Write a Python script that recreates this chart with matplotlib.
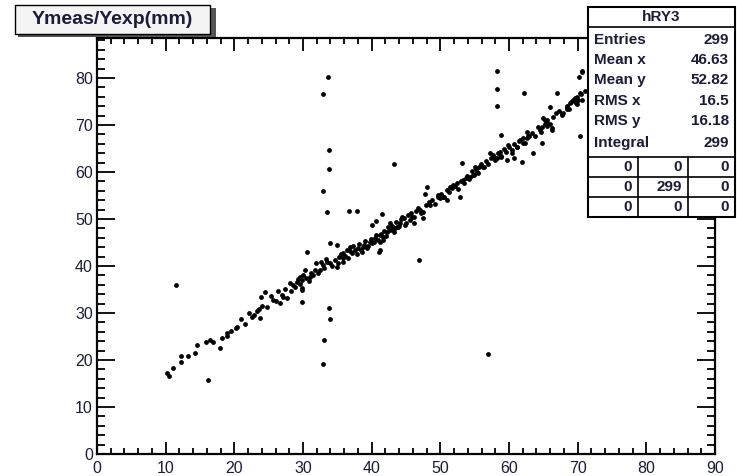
import matplotlib
matplotlib.use("Agg")
import matplotlib.pyplot as plt
from matplotlib.patches import Rectangle
from matplotlib.lines import Line2D
from matplotlib.ticker import MultipleLocator

# ---- data: (x, y) entries of hRY3 ----
x_out = [11.5, 16.2, 33.6, 32.9, 33.8, 33.8, 32.9, 33.5, 36.7, 37.8, 43.2, 30.6, 41.0,
         33.8, 33.9, 33.0, 32.9, 29.8, 46.9, 56.9, 58.2, 58.2, 58.2, 62.2, 67.0, 70.6,
         70.2, 70.3, 58.8, 53.1, 47.7, 48.0]
y_out = [36.0, 15.7, 80.2, 76.6, 64.7, 60.6, 56.0, 51.5, 51.7, 51.7, 61.7, 43.0, 43.0,
         31.0, 28.7, 24.3, 19.1, 32.3, 41.3, 21.3, 81.5, 77.7, 74.0, 76.8, 76.8, 81.5,
         80.2, 67.7, 67.9, 61.9, 55.3, 56.8]

x_low = [10.2, 10.5, 11.0, 12.2, 12.2, 13.2, 14.3, 14.5, 15.9, 16.4, 16.9, 17.9, 18.9,
         19.0, 20.2, 20.4, 21.0, 22.6, 22.8, 23.7, 23.3, 23.6, 24.0, 23.9, 24.5, 25.6,
         26.1, 26.4, 26.9, 27.1, 27.7, 28.1, 28.5, 29.1, 29.3, 29.5, 29.8, 30.0, 30.3,
         29.8, 29.8, 31.0, 31.4, 31.9, 32.5, 32.9, 33.5, 33.9, 34.9, 35.1, 35.8, 35.8,
         35.8, 36.4, 36.8, 37.1, 37.6, 38.0, 38.6, 38.7, 39.3, 39.7, 40.0, 40.5, 40.9,
         41.2, 41.6, 42.2, 42.6, 43.4, 43.8, 40.0, 40.6, 34.9, 33.9,
         18.2, 19.5, 21.6, 22.1, 24.8, 25.3, 26.7, 27.4, 28.3]
y_low = [17.2, 16.6, 18.3, 19.5, 20.9, 20.9, 21.5, 23.2, 23.8, 24.3, 23.8, 22.6, 25.7,
         25.1, 26.8, 27.0, 28.7, 29.2, 29.6, 28.9, 30.4, 30.8, 31.5, 33.4, 34.4, 32.8,
         32.6, 34.7, 33.8, 33.4, 33.2, 36.4, 36.0, 36.6, 37.2, 37.7, 37.0, 38.1, 39.1,
         35.3, 34.9, 37.7, 38.1, 40.6, 39.1, 40.2, 40.9, 40.6, 39.8, 40.6, 40.9, 41.7,
         42.8, 43.4, 44.0, 42.8, 43.4, 43.8, 43.0, 44.0, 43.8, 45.1, 44.9, 46.0, 45.5,
         45.1, 46.2, 47.2, 47.7, 48.1, 48.3, 48.7, 49.6, 44.5, 44.9,
         24.6, 26.1, 27.6, 30.1, 31.2, 33.6, 32.1, 35.2, 34.6]

x_high = [41.5, 41.2, 41.7, 41.2, 42.6, 43.1, 43.7, 44.1, 44.4, 44.8, 45.6, 46.1, 45.9,
          47.0, 47.5, 47.5, 48.5, 49.6, 49.9, 50.4, 50.9, 51.4, 51.8, 52.4, 52.8, 53.3,
          53.8, 54.3, 54.7, 55.3, 55.0, 55.7, 56.2, 57.2, 57.6, 57.9, 58.3, 58.9, 58.7,
          59.7, 59.8, 60.5, 60.8, 61.1, 61.6, 61.9, 62.0, 62.6, 62.6, 62.7, 63.5, 64.5,
          64.8, 64.9, 65.2, 65.5, 65.6, 66.2, 64.8, 66.3, 65.9, 67.7, 68.5, 69.1, 69.9,
          70.3, 69.8, 70.7, 70.6, 69.6, 70.0, 68.9, 69.9, 68.5, 67.7]
y_high = [51.1, 46.6, 45.5, 43.4, 49.1, 47.7, 48.3, 49.1, 50.4, 48.7, 49.8, 49.1, 50.4,
          51.9, 51.5, 50.2, 53.0, 54.7, 54.5, 54.7, 54.0, 56.8, 57.2, 57.7, 54.7, 58.3,
          58.7, 59.0, 59.4, 60.0, 61.1, 61.1, 61.1, 64.0, 63.2, 62.6, 63.0, 63.2, 64.3,
          62.6, 65.7, 64.0, 62.9, 65.3, 66.8, 62.1, 66.2, 67.2, 68.5, 67.7, 64.0, 69.0,
          69.6, 71.5, 71.1, 70.4, 69.8, 69.4, 66.2, 69.0, 73.8, 72.1, 73.8, 74.9, 76.0,
          76.8, 74.9, 75.3, 81.3, 75.7, 75.3, 74.7, 74.5, 73.5, 72.3]

x_band = [28.8, 29.6, 30.4, 30.9, 31.2, 31.8, 32.2, 32.6, 33.1, 33.4, 34.2, 34.6, 35.3,
          35.6, 36.1, 36.5, 36.9, 37.3, 37.8, 38.2, 38.4, 38.9, 39.1, 39.5, 39.9, 40.3,
          40.7, 41.3, 41.8, 42.1, 42.4, 42.9, 43.2, 43.6, 44.0, 44.3, 44.7, 45.0, 45.3,
          45.8, 46.1, 46.5, 46.8, 47.2, 47.9, 48.3, 48.8, 49.2, 49.7, 50.1, 50.5, 50.9,
          51.3, 51.7, 52.1, 52.6, 53.0, 53.5, 53.9, 54.2, 54.6, 54.9, 55.2, 55.5, 55.9,
          56.3, 56.6, 56.9, 57.4, 57.7, 58.1, 58.4, 58.9, 59.2, 59.5, 60.0, 60.4, 60.8,
          61.1, 61.4, 62.0, 62.3, 62.9, 63.3, 63.8, 64.2, 64.6, 65.2, 65.5, 66.0, 66.4,
          66.8, 67.3, 67.9, 68.4, 68.8, 69.3, 69.8, 70.5, 71.0]
y_band = [35.6, 36.2, 37.4, 36.8, 38.6, 39.2, 38.4, 40.8, 39.6, 41.5, 40.1, 41.2, 41.9,
          42.5, 42.2, 41.6, 43.1, 44.2, 42.6, 44.6, 43.5, 44.4, 45.3, 44.2, 45.8, 45.2,
          46.6, 46.9, 47.5, 46.4, 48.2, 48.6, 47.3, 49.4, 48.5, 49.9, 50.3, 49.1, 50.8,
          51.2, 50.4, 51.6, 52.4, 51.2, 52.9, 53.6, 54.0, 53.2, 55.0, 55.4, 54.6, 56.1,
          55.8, 56.5, 57.0, 56.3, 58.1, 57.6, 59.2, 58.5, 60.1, 59.4, 60.7, 59.8, 61.6,
          61.0, 62.4, 61.8, 62.9, 63.6, 63.0, 64.1, 63.4, 64.8, 64.2, 65.3, 64.6, 66.0,
          65.4, 66.5, 67.2, 66.1, 67.6, 68.3, 67.7, 69.6, 68.4, 70.3, 71.0, 70.1, 71.6,
          72.5, 73.0, 72.6, 74.1, 73.5, 75.4, 74.6, 76.6, 77.2]

hist_name = "hRY3"
title_text = "Ymeas/Yexp(mm)"
stat_labels = ["Entries", "Mean x", "Mean y", "RMS x", "RMS y", "Integral"]
stat_values = ["299", "46.63", "52.82", "16.5", "16.18", "299"]
cell_counts = [["0", "0", "0"], ["0", "299", "0"], ["0", "0", "0"]]

xs = x_out + x_low + x_high + x_band
ys = y_out + y_low + y_high + y_band

W, H = 737, 476
fig = plt.figure(figsize=(W / 100, H / 100), dpi=100)
fig.patch.set_facecolor("white")

def fx(px):
    return px / W

def fy(py):
    return 1 - py / H

FONT = "Liberation Sans"
TXT = "#1b1b3a"

ax = fig.add_axes([fx(97), fy(454), (715 - 97) / W, (454 - 38) / H])
ax.scatter(xs, ys, s=12, c="black", marker="o", linewidths=0, zorder=3)
ax.set_xlim(0, 90)
ax.set_ylim(0, 88.5)
ax.xaxis.set_major_locator(MultipleLocator(10))
ax.xaxis.set_minor_locator(MultipleLocator(2))
ax.yaxis.set_major_locator(MultipleLocator(10))
ax.yaxis.set_minor_locator(MultipleLocator(2))
for s in ax.spines.values():
    s.set_linewidth(1.6)
ax.tick_params(which="both", direction="in", top=True, right=True, color="black")
ax.tick_params(axis="x", which="major", length=9, width=1.3, pad=5)
ax.tick_params(axis="x", which="minor", length=4, width=1.3)
ax.tick_params(axis="y", which="major", length=13, width=1.3, pad=3)
ax.tick_params(axis="y", which="minor", length=6, width=1.3)
for lab in ax.get_xticklabels() + ax.get_yticklabels():
    lab.set_fontfamily(FONT)
    lab.set_fontsize(11.5)
    lab.set_color(TXT)

# title box with shadow
fig.add_artist(Rectangle((fx(18), fy(37)), (213 - 15) / W, (37 - 8) / H,
                         transform=fig.transFigure, facecolor="#555555",
                         edgecolor="none", zorder=5))
fig.add_artist(Rectangle((fx(15), fy(34)), (210 - 15) / W, (34 - 5) / H,
                         transform=fig.transFigure, facecolor="#f4f4f4",
                         edgecolor="black", linewidth=1.0, zorder=6))
fig.text(fx(112), fy(20), title_text, ha="center", va="center",
         fontfamily=FONT, fontweight="bold", fontsize=14, color=TXT, zorder=7)

# statistics box
L, R, T, B = 588, 735, 7, 217
fig.add_artist(Rectangle((fx(L), fy(B)), (R - L) / W, (B - T) / H,
                         transform=fig.transFigure, facecolor="white",
                         edgecolor="black", linewidth=1.5, zorder=5))

def hline(py, x0=L, x1=R, lw=1.2):
    fig.add_artist(Line2D([fx(x0), fx(x1)], [fy(py), fy(py)],
                          transform=fig.transFigure, color="black",
                          linewidth=lw, zorder=6))

def vline(px, y0, y1, lw=1.2):
    fig.add_artist(Line2D([fx(px), fx(px)], [fy(y0), fy(y1)],
                          transform=fig.transFigure, color="black",
                          linewidth=lw, zorder=6))

hline(27)
fig.text(fx((L + R) / 2), fy(17), hist_name, ha="center", va="center",
         fontfamily=FONT, fontweight="bold", fontsize=11, color=TXT, zorder=7)
row_y = [40, 60, 80, 101, 121, 143]
for lab, val, yy in zip(stat_labels, stat_values, row_y):
    fig.text(fx(594), fy(yy), lab, ha="left", va="center", fontfamily=FONT,
             fontweight="bold", fontsize=11, color=TXT, zorder=7)
    fig.text(fx(729), fy(yy), val, ha="right", va="center", fontfamily=FONT,
             fontweight="bold", fontsize=11, color=TXT, zorder=7)

grid_y = [157, 177, 197, 217]
for gy in grid_y[:-1]:
    hline(gy)
col_x = [588, 638, 688, 735]
for cx in col_x[1:-1]:
    vline(cx, grid_y[0], grid_y[-1])
for r, row in enumerate(cell_counts):
    yc = (grid_y[r] + grid_y[r + 1]) / 2
    for c, val in enumerate(row):
        fig.text(fx(col_x[c + 1] - 6), fy(yc), val, ha="right", va="center",
                 fontfamily=FONT, fontweight="bold", fontsize=11, color=TXT,
                 zorder=7)

fig.savefig("out.png", dpi=100)
